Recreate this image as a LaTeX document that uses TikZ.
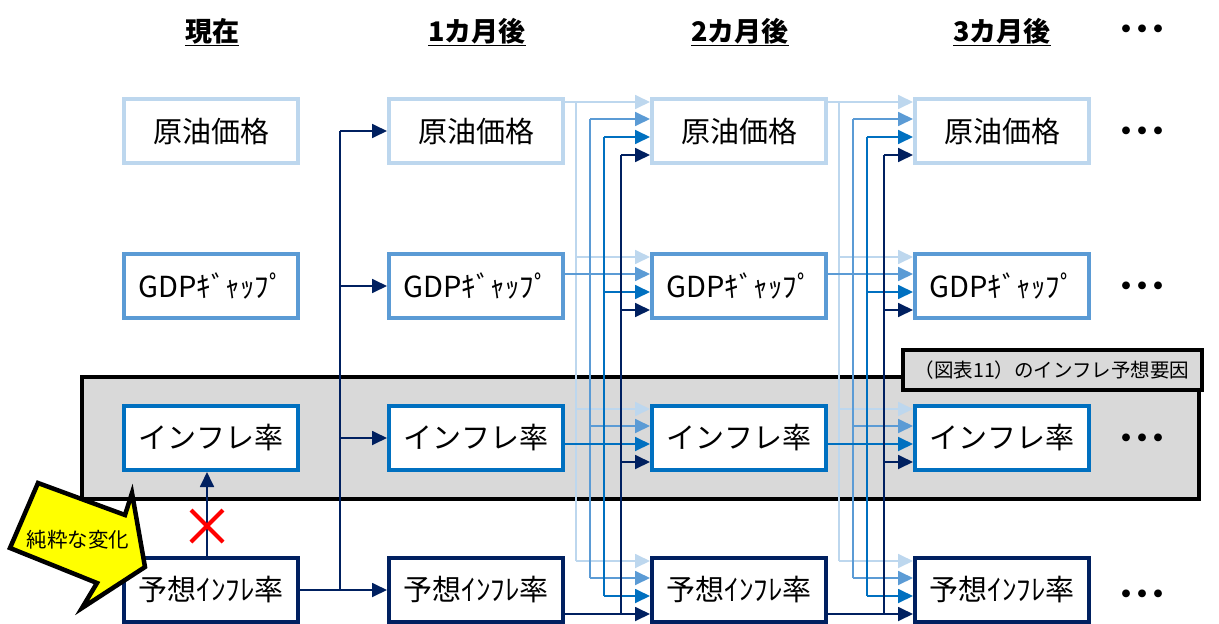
\documentclass[tikz,border=0pt]{standalone}
\usepackage{fontspec}
\setmainfont{Noto Sans CJK JP}
\usetikzlibrary{arrows.meta,calc}
\definecolor{c0}{HTML}{BDD7EE}
\definecolor{c1}{HTML}{5B9BD5}
\definecolor{c2}{HTML}{0070C0}
\definecolor{c3}{HTML}{002060}
\definecolor{band}{HTML}{D9D9D9}
\definecolor{xred}{HTML}{FF0000}
\definecolor{yel}{HTML}{FFFF00}
\newcommand\mydot{\makebox[16pt][c]{・}}
\tikzset{
  box/.style={draw=#1, line width=4pt, fill=white, minimum width=174pt, minimum height=64pt, inner sep=0pt, font=\fontsize{29}{32}\selectfont},
  conn/.style={draw=#1, line width=1.8pt},
  arr/.style={draw=#1, line width=1.8pt, -{Triangle[length=15pt,width=14pt]}},
  hdr/.style={font=\bfseries\fontsize{27}{29}\selectfont, inner sep=0pt},
  dotsnode/.style={font=\bfseries\fontsize{28}{30}\selectfont, inner sep=0pt},
  lblbox/.style={draw=black, line width=4pt, fill=band, minimum width=299pt, minimum height=40pt, inner sep=0pt, font=\fontsize{19.5}{21}\selectfont},
  pure/.style={font=\fontsize{20.5}{22}\selectfont, inner sep=0pt}
}
\begin{document}
\begin{tikzpicture}[x=1pt,y=-1pt]
\useasboundingbox (0,0) rectangle (1219,624);
% band
\draw[line width=4pt, fill=band] (82,377) rectangle (1199,499);
\node[lblbox] (lbl) at (1052,370) {（図表11）のインフレ予想要因};
% headers
\node[hdr] (h0) at (212,32) {\underline{現在}};
\node[hdr] (h1) at (477,32) {\underline{1カ月後}};
\node[hdr] (h2) at (740,32) {\underline{2カ月後}};
\node[hdr] (h3) at (1002,32) {\underline{3カ月後}};
\node[dotsnode] (dh) at (1142,32) {\mydot\mydot\mydot};
% boxes
\foreach \c/\x in {0/211,1/476,2/739,3/1002}{
  \node[box=c0] (n\c0) at (\x,131) {原油価格};
  \node[box=c1] (n\c1) at (\x,286) {GDPｷﾞｬｯﾌﾟ};
  \node[box=c2] (n\c2) at (\x,438) {インフレ率};
  \node[box=c3] (n\c3) at (\x,590) {予想ｲﾝﾌﾚ率};
}
\node[dotsnode] (d0) at (1142,134) {\mydot\mydot\mydot};
\node[dotsnode] (d1) at (1142,289) {\mydot\mydot\mydot};
\node[dotsnode] (d2) at (1142,441) {\mydot\mydot\mydot};
\node[dotsnode] (d3) at (1142,597) {\mydot\mydot\mydot};
% slot coordinates
\foreach \c in {2,3}{
  \foreach \r in {0,1,2,3}{
    \foreach \k/\s in {0/29,1/12,2/-6,3/-24}{
      \coordinate (i\c\r\k) at ([yshift=\s pt]n\c\r.west);
    }
  }
}
% column 1 -> 2, 2 -> 3
\foreach \c/\d in {1/2,2/3}{
  \foreach \r/\bx in {0/11,1/25,2/39,3/56}{
    \coordinate (bus\c\r) at ([xshift=\bx pt]n\c\r.east);
    \draw[conn=c\r] (n\c\r.east |- i\d\r\r) -- (bus\c\r |- i\d\r\r);
    \draw[conn=c\r] (bus\c\r |- i\d0\r) -- (bus\c\r |- i\d3\r);
    \foreach \k in {0,1,2,3}{
      \draw[arr=c\r] (bus\c\r |- i\d\k\r) -- (i\d\k\r);
    }
  }
}
% column 0 -> 1
\coordinate (j0) at ([xshift=40pt]n03.east);
\draw[conn=c3] (n03.east) -- (j0) -- (j0 |- n10.west);
\foreach \r in {0,1,2,3}{
  \draw[arr=c3] (j0 |- n1\r.west) -- (n1\r.west);
}
% up arrow with cross
\coordinate (u1) at ([xshift=-4pt]n03.north);
\draw[arr=c3] (u1) -- (u1 |- n02.south);
\draw[xred, line width=4pt] (191,510) -- (223,542) (191,542) -- (223,510);
% yellow arrow
\draw[line width=4.5pt, fill=yel, line join=miter] (38,483) -- (125,515) -- (132,493) -- (145,567) -- (82,608) -- (97,583) -- (10,548) -- cycle;
\node[pure] (pu) at (78,540) {純粋な変化};
\end{tikzpicture}
\end{document}
